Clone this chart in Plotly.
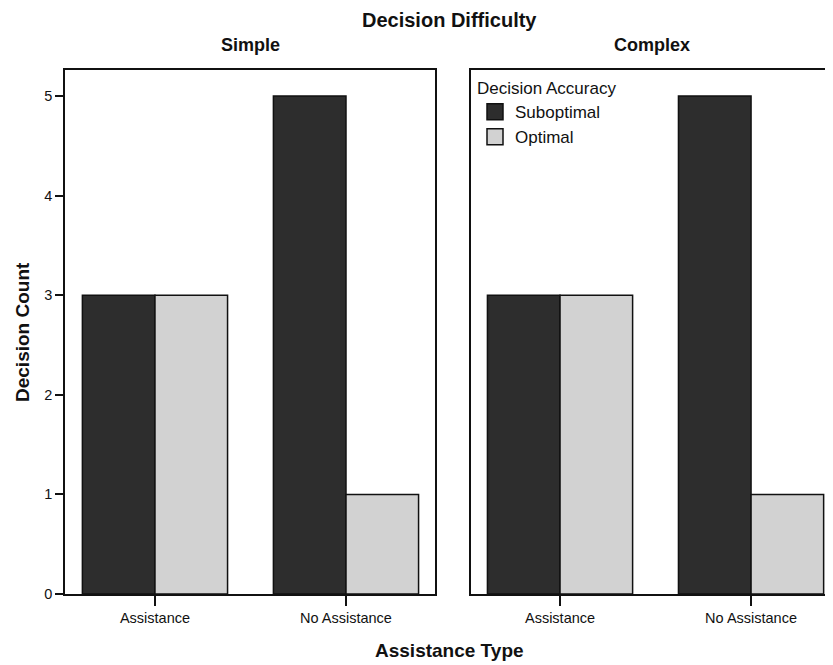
import plotly.graph_objects as go

panels = ["Simple", "Complex"]
categories = ["Assistance", "No Assistance"]
series_names = ["Suboptimal", "Optimal"]
simple_values = {"Suboptimal": [3, 5], "Optimal": [3, 1]}
complex_values = {"Suboptimal": [3, 5], "Optimal": [3, 1]}
y_ticks = [0, 1, 2, 3, 4, 5]

colors = {"Suboptimal": "#2d2d2d", "Optimal": "#d2d2d2"}
EDGE = "#111111"
FONT = "Liberation Sans, Arial, Helvetica, sans-serif"

fig = go.Figure()
for i, (panel, vals) in enumerate(zip(panels, [simple_values, complex_values])):
    ax = "" if i == 0 else "2"
    for s in series_names:
        fig.add_trace(go.Bar(
            x=categories, y=vals[s], name=s,
            marker=dict(color=colors[s], line=dict(color=EDGE, width=1.5)),
            xaxis="x" + ax, yaxis="y" + ax,
            showlegend=False, legendgroup=s,
        ))
# legend entries (larger square swatches, like the reference key)
for s in series_names:
    fig.add_trace(go.Scatter(
        x=[None], y=[None], mode="markers", name=s, legendgroup=s,
        marker=dict(symbol="square", size=16, color=colors[s],
                    line=dict(color=EDGE, width=1.5)),
        xaxis="x2", yaxis="y2", showlegend=True, hoverinfo="skip",
    ))

# The page body has an 8px margin, so the figure is sized to fill the window exactly.
W, H = 825, 657
L, R, T, B = 57, 0, 62, 71
pw = W - L - R
ph = H - T - B
x1_end = 370 / pw
x2_start = 406 / pw

axis_common = dict(showline=True, linecolor=EDGE, linewidth=1.5,
                   tickcolor=EDGE, tickwidth=1.5,
                   showgrid=False, zeroline=False,
                   tickfont=dict(family=FONT, size=14.5, color=EDGE))

fig.update_layout(
    width=W, height=H,
    margin=dict(l=L, r=R, t=T, b=B, autoexpand=False),
    paper_bgcolor="white", plot_bgcolor="white",
    barmode="group", bargap=0.24, bargroupgap=0,
    font=dict(family=FONT, color=EDGE),
    showlegend=True,
    xaxis=dict(domain=[0, x1_end], type="category", range=[-0.471, 1.466],
               categoryorder="array", categoryarray=categories,
               mirror=True, ticks="outside", ticklen=10, anchor="y", **axis_common),
    xaxis2=dict(domain=[x2_start, 1], type="category", range=[-0.466, 1.429],
                categoryorder="array", categoryarray=categories,
                mirror=True, ticks="outside", ticklen=10, anchor="y2", **axis_common),
    yaxis=dict(domain=[0, 1], range=[0, 5.26], tickvals=y_ticks, mirror=True,
               ticks="outside", ticklen=8, anchor="x", **axis_common),
    yaxis2=dict(domain=[0, 1], range=[0, 5.26], tickvals=y_ticks,
                showticklabels=False, ticks="", anchor="x2", **axis_common),
    legend=dict(
        x=410 / pw, y=1 - 2 / ph, xanchor="left", yanchor="top",
        bgcolor="rgba(0,0,0,0)",
        title=dict(text="Decision Accuracy", font=dict(family=FONT, size=17, color=EDGE)),
        font=dict(family=FONT, size=17, color=EDGE),
        itemsizing="trace", traceorder="normal",
    ),
    annotations=[
        dict(text="<b>Decision Difficulty</b>", x=0.5, y=1, xref="paper", yref="paper",
             yshift=50, xanchor="center", yanchor="middle", showarrow=False,
             font=dict(family=FONT, size=20, color=EDGE)),
        dict(text="<b>Simple</b>", x=x1_end / 2, y=1, xref="paper", yref="paper",
             yshift=25, xanchor="center", yanchor="middle", showarrow=False,
             font=dict(family=FONT, size=18, color=EDGE)),
        dict(text="<b>Complex</b>", x=(x2_start + 1) / 2, y=1, xref="paper", yref="paper",
             yshift=25, xanchor="center", yanchor="middle", showarrow=False,
             font=dict(family=FONT, size=18, color=EDGE)),
        dict(text="<b>Assistance Type</b>", x=0.5, y=0, xref="paper", yref="paper",
             yshift=-56, xanchor="center", yanchor="middle", showarrow=False,
             font=dict(family=FONT, size=19, color=EDGE)),
        dict(text="<b>Decision Count</b>", x=0, y=0.5, xref="paper", yref="paper",
             xshift=-43, textangle=-90, xanchor="center", yanchor="middle", showarrow=False,
             font=dict(family=FONT, size=19, color=EDGE)),
    ],
)

fig.write_html("out.html")
